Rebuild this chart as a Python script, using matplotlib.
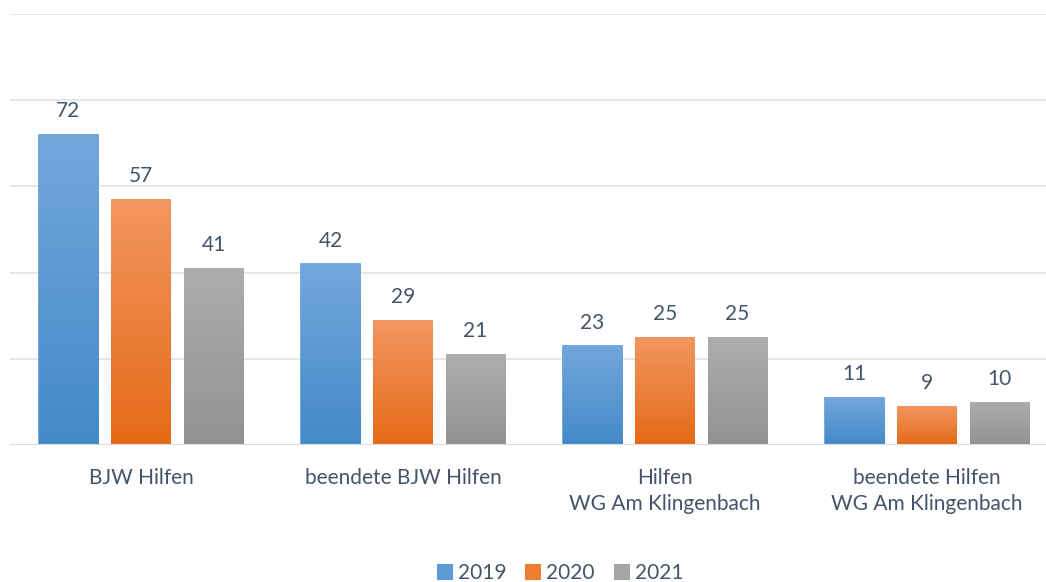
import matplotlib
matplotlib.use("Agg")
import matplotlib.pyplot as plt
import numpy as np
from matplotlib.colors import LinearSegmentedColormap
from matplotlib.patches import Patch

categories = ["BJW Hilfen", "beendete BJW Hilfen", "Hilfen\nWG Am Klingenbach", "beendete Hilfen\nWG Am Klingenbach"]
series_names = ["2019", "2020", "2021"]
values_2019 = [72, 42, 23, 11]
values_2020 = [57, 29, 25, 9]
values_2021 = [41, 21, 25, 10]
series_values = [values_2019, values_2020, values_2021]
yticks = [0, 20, 40, 60, 80, 100]

grad_top = ["#72a7dc", "#f29660", "#adadad"]
grad_bot = ["#4489c9", "#e56a17", "#929292"]
solid = ["#5b9bd5", "#ed7d31", "#a5a5a5"]
text_color = "#44546a"
plt.rcParams['font.family'] = ['Lato', 'DejaVu Sans']
FS = 15

fig = plt.figure(figsize=(10.46, 5.82), dpi=100)
ax = fig.add_axes([10/1046, (582-445)/582, 1048/1046, (445-14)/582])
ax.set_xlim(-0.5, 3.5)
ax.set_ylim(0, 100)

x = np.arange(len(categories))
width = 0.228
offset = 0.277
grad = np.linspace(1, 0, 256).reshape(-1, 1)
for i, vals in enumerate(series_values):
    pos = x + (i - 1) * offset
    bars = ax.bar(pos, vals, width=width, color=solid[i], zorder=2)
    cmap = LinearSegmentedColormap.from_list("g%d" % i, [grad_bot[i], grad_top[i]])
    for b, v in zip(bars, vals):
        x0 = b.get_x()
        im = ax.imshow(grad, extent=(x0, x0 + width, 0, v), aspect='auto', cmap=cmap,
                       origin='upper', zorder=3, vmin=0, vmax=1)
        im.set_clip_path(b)
        b.set_facecolor('none')
        if i == 0:
            b.set_edgecolor('#5b9bd5')
            b.set_linewidth(1.2)
        else:
            b.set_linewidth(0)
        ax.text(b.get_x() + width / 2, v + 5.4, str(v), ha='center', va='center',
                fontsize=FS, color=text_color, zorder=4)

ax.set_yticks(yticks)
ax.yaxis.grid(True, color='#dfe3e8', linewidth=1.2, zorder=0)
ax.set_axisbelow(True)
ax.tick_params(left=False, labelleft=False, bottom=False)
for s in ax.spines.values():
    s.set_visible(False)
ax.axhline(0, color='#d9dde3', linewidth=1.5, zorder=5)
ax.set_xticks(x)
ax.set_xticklabels(categories, fontsize=FS, color=text_color, linespacing=1.4)
ax.tick_params(axis='x', pad=13)

handles = [Patch(facecolor=solid[i], edgecolor='none') for i in range(3)]
leg = fig.legend(handles, series_names, loc='center', bbox_to_anchor=(560/1046, 9/582),
                 ncol=3, frameon=False, fontsize=FS, handlelength=0.77, handleheight=0.77,
                 handletextpad=0.25, columnspacing=0.9, borderpad=0.1)
for t in leg.get_texts():
    t.set_color(text_color)

fig.savefig("out.png", dpi=100)
